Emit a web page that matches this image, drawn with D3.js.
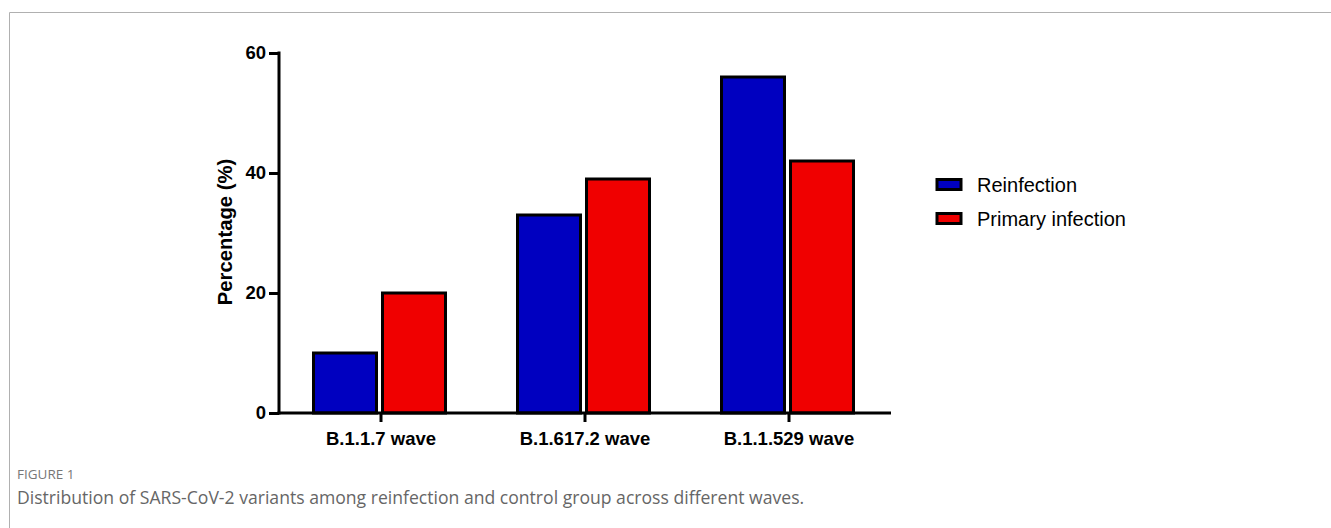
<!DOCTYPE html>
<html>
<head>
<meta charset="utf-8">
<script src="https://cdn.jsdelivr.net/npm/d3@7"></script>
<style>
  body { margin: 0; background: #fff; }
  svg { display: block; }
</style>
</head>
<body>
<svg id="chart"></svg>
<script>
var waves = ["B.1.1.7 wave", "B.1.617.2 wave", "B.1.1.529 wave"];
var groups = ["Reinfection", "Primary infection"];
var reinfection = [10, 33, 56];
var primary = [20, 39, 42];
var yTicks = [0, 20, 40, 60];
var colors = ["#0000c0", "#f00000"];

var width = 1331, height = 528;
var svg = d3.select("#chart").attr("width", width).attr("height", height);

// frame lines (top + left only)
svg.append("line").attr("x1", 9.5).attr("x2", width).attr("y1", 12.5).attr("y2", 12.5)
    .attr("stroke", "#b0b0b0").attr("stroke-width", 1);
svg.append("line").attr("x1", 9.5).attr("x2", 9.5).attr("y1", 12.5).attr("y2", height)
    .attr("stroke", "#b0b0b0").attr("stroke-width", 1);

var y = d3.scaleLinear().domain([0, 60]).range([413, 53]);
var x = d3.scaleBand().domain(waves).range([279, 891]);
var x1 = d3.scaleBand().domain(groups).range([0, 138]);
var offset = (x.bandwidth() - 138) / 2;

var rows = waves.map(function(w, i) {
    return {wave: w, values: [reinfection[i], primary[i]]};
});

var font = "Liberation Sans, Arial, sans-serif";
var g = svg.append("g");

g.selectAll("g.wave")
    .data(rows)
    .enter().append("g")
    .attr("class", "wave")
    .attr("transform", function(d) { return "translate(" + (x(d.wave) + offset) + ",0)"; })
    .selectAll("rect")
    .data(function(d) { return d.values.map(function(v, j) { return {group: groups[j], value: v, i: j}; }); })
    .enter().append("rect")
    .attr("x", function(d) { return x1(d.group) + 1.5; })
    .attr("y", function(d) { return y(d.value); })
    .attr("width", x1.bandwidth() - 6)
    .attr("height", function(d) { return y(0) - y(d.value); })
    .attr("fill", function(d) { return colors[d.i]; })
    .attr("stroke", "#000")
    .attr("stroke-width", 3);

// y axis
var yAxis = g.append("g")
    .attr("transform", "translate(279,0)")
    .call(d3.axisLeft(y).tickValues(yTicks).tickSize(10).tickSizeOuter(0).tickPadding(3));
yAxis.select(".domain").attr("stroke-width", 3).attr("d", "M0," + (y(60) - 1.5) + "V" + (y(0) + 1.5));
yAxis.selectAll(".tick line").attr("stroke-width", 3);
yAxis.selectAll("text")
    .attr("font-family", font)
    .attr("font-weight", "bold").attr("font-size", 18.5).attr("fill", "#000");

// x axis
var xAxis = g.append("g")
    .attr("transform", "translate(0," + y(0) + ")")
    .call(d3.axisBottom(x).tickSize(9).tickSizeOuter(0).tickPadding(10));
xAxis.select(".domain").attr("stroke-width", 3).attr("d", "M277.5,0H891");
xAxis.selectAll(".tick line").attr("stroke-width", 3);
xAxis.selectAll("text")
    .attr("font-family", font)
    .attr("font-weight", "bold").attr("font-size", 18.5).attr("fill", "#000");

// y title
g.append("text")
    .attr("transform", "translate(232,232) rotate(-90)")
    .attr("text-anchor", "middle")
    .attr("font-family", font)
    .attr("font-weight", "bold").attr("font-size", 20.3)
    .text("Percentage (%)");

// legend
var legend = svg.append("g").attr("transform", "translate(937,179.5)");
var li = legend.selectAll("g").data(groups).enter().append("g")
    .attr("transform", function(d, i) { return "translate(0," + (i * 34) + ")"; });
li.append("rect")
    .attr("x", 0).attr("y", 0).attr("width", 24).attr("height", 10)
    .attr("fill", function(d, i) { return colors[i]; })
    .attr("stroke", "#000").attr("stroke-width", 3);
li.append("text")
    .attr("x", 40).attr("y", 12.5)
    .attr("font-family", font)
    .attr("font-size", 20)
    .text(function(d) { return d; });

// caption
svg.append("text")
    .attr("x", 17).attr("y", 479)
    .attr("font-family", "Open Sans, sans-serif")
    .attr("font-size", 13.5).attr("fill", "#777")
    .text("FIGURE 1");
svg.append("text")
    .attr("x", 17).attr("y", 504)
    .attr("font-family", "Open Sans, sans-serif")
    .attr("font-size", 17.6).attr("fill", "#666")
    .text("Distribution of SARS-CoV-2 variants among reinfection and control group across different waves.");
</script>
</body>
</html>
